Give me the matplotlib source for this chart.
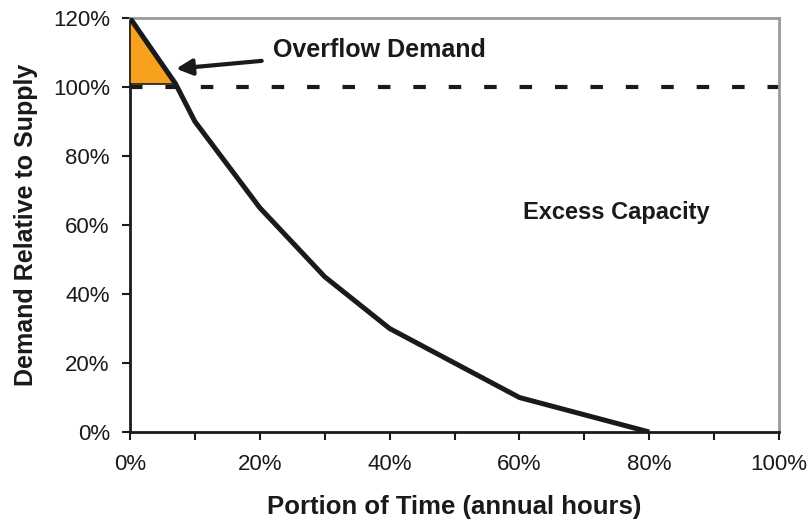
import matplotlib
matplotlib.use('Agg')
import matplotlib.pyplot as plt
from matplotlib.ticker import FuncFormatter, MultipleLocator

plt.rcParams['font.family'] = ['Liberation Sans', 'DejaVu Sans']

# load duration curve (percent of time vs demand relative to supply)
time_pct = [0, 7, 10, 20, 30, 40, 50, 60, 70, 80]
demand_pct = [120, 101, 90, 65, 45, 30, 20, 10, 5, 0]
supply_pct = 100
overflow_x = [0, 0, 7]
overflow_y = [120, 101, 101]

fig = plt.figure(figsize=(8.11, 5.27), dpi=100)
ax = fig.add_axes([130 / 811, 95 / 527, 649 / 811, 414 / 527])

ax.axhline(supply_pct, color='#1a1a1a', lw=3.0, dashes=(3, 5.5), zorder=2)
ax.fill(overflow_x, overflow_y, facecolor='#F7A11F', edgecolor='#1a1a1a',
        lw=1.2, zorder=3)
ax.plot(time_pct, demand_pct, color='#1a1a1a', lw=3.6,
        solid_capstyle='butt', zorder=4)

ax.set_xlim(0, 100)
ax.set_ylim(0, 120)
ax.xaxis.set_major_locator(MultipleLocator(20))
ax.xaxis.set_minor_locator(MultipleLocator(10))
ax.yaxis.set_major_locator(MultipleLocator(20))
pct = FuncFormatter(lambda v, p: f'{v:.0f}%')
ax.xaxis.set_major_formatter(pct)
ax.yaxis.set_major_formatter(pct)
ax.tick_params(axis='both', which='both', direction='out', width=1.5,
               color='#1a1a1a', labelsize=16, labelcolor='#1a1a1a')
ax.tick_params(axis='x', which='both', length=6, pad=10)
ax.tick_params(axis='y', length=6, pad=8.5)

for s in ['left', 'bottom']:
    ax.spines[s].set_linewidth(2)
    ax.spines[s].set_color('#1a1a1a')
for s in ['top', 'right']:
    ax.spines[s].set_linewidth(2)
    ax.spines[s].set_color('#9a9a9a')

ax.set_xlabel('Portion of Time (annual hours)', fontsize=18.5, fontweight='bold',
              color='#1a1a1a', labelpad=14)
ax.set_ylabel('Demand Relative to Supply', fontsize=18, fontweight='bold',
              color='#1a1a1a', labelpad=11)

ax.annotate('Overflow Demand', xy=(7.1, 105.3), xytext=(22, 110.7),
            fontsize=18, fontweight='bold', color='#1a1a1a', va='center',
            arrowprops=dict(arrowstyle='-|>', color='#1a1a1a', lw=3,
                            mutation_scale=24, shrinkA=6, shrinkB=0))
ax.text(75, 63.5, 'Excess Capacity', fontsize=17, fontweight='bold',
        color='#1a1a1a', ha='center', va='center')

fig.savefig('out.png', dpi=100)
